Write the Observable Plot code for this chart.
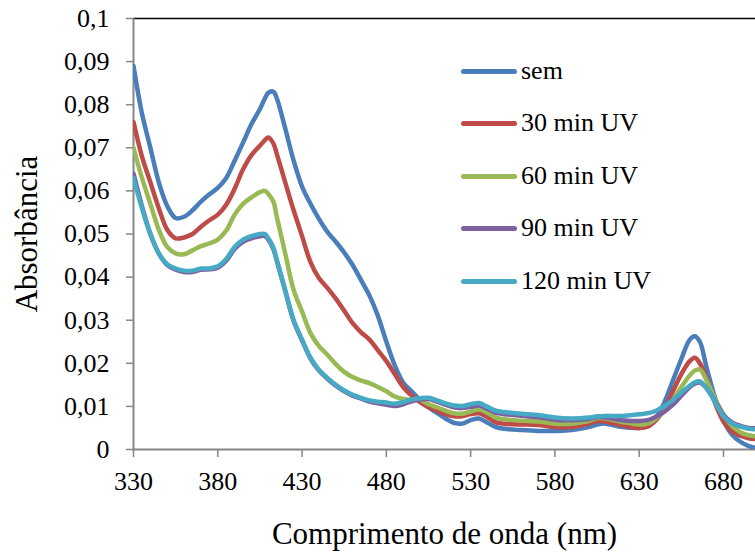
<!DOCTYPE html>
<html>
<head>
<meta charset="utf-8">
<script src="https://cdn.jsdelivr.net/npm/d3@7"></script>
<script src="https://cdn.jsdelivr.net/npm/@observablehq/plot@0.6"></script>
<style>
  html, body { margin: 0; padding: 0; background: white; }
  #wrap { position: relative; width: 755px; height: 554px; font-family: "Liberation Serif", "Times New Roman", serif; }
  #wrap svg { font-family: "Liberation Serif", "Times New Roman", serif; }
  #wrap g[aria-label="x-axis label"] text, #wrap g[aria-label="y-axis label"] text { font-size: 31px; }
  .leg-row { position: absolute; left: 461px; height: 30px; }
  .leg-line { position: absolute; left: 0; width: 56px; height: 5px; border-radius: 3px; top: 12.5px; }
  .leg-text { position: absolute; left: 60px; top: 0; font-size: 26px; line-height: 30px; white-space: nowrap; color: black; font-family: "Liberation Serif", "Times New Roman", serif; }
</style>
</head>
<body>
<div id="wrap"></div>
<script>
const wavelength = [330,335,340,345,350,355,360,365,370,375,380,385,390,395,400,405,408,410,413,415,420,425,430,435,440,445,450,455,460,465,470,475,480,485,490,495,500,505,510,515,520,525,530,535,540,545,550,560,570,580,590,600,605,610,620,630,635,640,645,650,655,660,663,666,670,675,680,685,690,695,700];

const sem = [.089,.078,.070,.062,.0565,.0537,.054,.0555,.0575,.0592,.0607,.063,.067,.0712,.0755,.079,.0815,.0828,.083,.0815,.0745,.067,.061,.057,.0535,.0505,.0482,.0457,.0428,.0393,.0357,.031,.025,.0195,.0155,.0135,.0115,.0098,.0085,.0072,.0062,.006,.0068,.0072,.0062,.0052,.0048,.0045,.0043,.0043,.0045,.0052,.0058,.006,.0052,.005,.0055,.0075,.011,.016,.021,.0255,.0263,.025,.019,.012,.0066,.0035,.0018,.0008,.0003];

const uv30 = [.076,.068,.062,.056,.051,.049,.0492,.050,.0517,.0532,.0545,.0568,.0605,.065,.0683,.0705,.0718,.0724,.071,.0686,.062,.0555,.0495,.0435,.0398,.0375,.035,.0322,.0293,.0272,.0255,.023,.0205,.0175,.0145,.0125,.011,.0098,.009,.0082,.0077,.0077,.0082,.0084,.0075,.0063,.006,.0058,.0057,.0052,.0052,.006,.0066,.0065,.0056,.005,.0053,.0068,.0095,.0135,.0175,.0205,.0213,.020,.0165,.0108,.0065,.0042,.0032,.0026,.0024];

const uv60 = [.070,.063,.057,.051,.047,.0455,.0453,.0462,.0472,.0478,.0487,.0508,.0545,.057,.0585,.0597,.060,.0593,.0575,.054,.0455,.037,.032,.027,.024,.022,.0198,.018,.0168,.016,.0154,.0145,.0135,.0123,.0117,.0115,.0115,.0105,.0098,.009,.0084,.0083,.0088,.0093,.0085,.0074,.007,.0067,.0065,.006,.006,.0066,.0073,.0072,.0064,.0058,.006,.0072,.009,.0115,.0145,.0172,.0183,.0186,.016,.0118,.0082,.0055,.004,.0033,.003];

const uv90 = [.064,.0565,.050,.0455,.0428,.0417,.0412,.0412,.0417,.0418,.0422,.0438,.0465,.0482,.049,.0495,.0495,.0487,.0465,.0438,.0368,.0298,.0253,.0211,.0183,.0164,.0148,.0135,.0125,.0118,.0111,.0107,.0104,.0101,.0105,.0112,.0116,.0117,.0111,.0104,.0098,.0096,.0099,.0102,.0094,.0085,.0082,.0078,.0075,.0069,.0068,.0071,.0075,.0074,.0068,.0066,.0068,.0076,.0088,.0104,.0125,.0145,.0153,.0155,.0142,.0112,.008,.0063,.0055,.005,.0049];

const uv120 = [.063,.056,.050,.0455,.043,.042,.0415,.0415,.042,.042,.0425,.0442,.047,.0487,.0495,.050,.050,.049,.0468,.044,.037,.030,.0255,.0213,.0185,.0166,.015,.0137,.0127,.012,.0114,.0111,.0109,.0106,.011,.0116,.0119,.012,.0114,.0107,.0102,.0101,.0105,.0108,.0099,.009,.0087,.0083,.008,.0074,.0072,.0074,.0077,.0078,.0078,.0082,.0084,.009,.0101,.0115,.0132,.0148,.0156,.0158,.0142,.011,.0077,.006,.0053,.0048,.0047];

const seriesNames = ["sem", "30 min UV", "60 min UV", "90 min UV", "120 min UV"];
const seriesValues = [sem, uv30, uv60, uv90, uv120];
const seriesColors = ["#4A7EBB", "#BE4B48", "#98B954", "#7D60A0", "#46AAC5"];

const xTicks = [330, 380, 430, 480, 530, 580, 630, 680];
const yTicks = [0, 0.01, 0.02, 0.03, 0.04, 0.05, 0.06, 0.07, 0.08, 0.09, 0.1];
const xDomain = [330, 699];
const yDomain = [0, 0.1];

const data = seriesNames.flatMap((name, i) =>
  wavelength.map((w, j) => ({series: name, x: w, y: seriesValues[i][j]}))
);

const fmt = d3.formatLocale({decimal: ",", thousands: ".", grouping: [3], currency: ["", ""]}).format("~g");

const chart = Plot.plot({
  width: 755,
  height: 554,
  marginLeft: 133,
  marginTop: 18,
  marginRight: 0,
  marginBottom: 105,
  style: {fontFamily: "'Liberation Serif', 'Times New Roman', serif", fontSize: "26px", color: "black", background: "white"},
  x: {domain: xDomain},
  y: {domain: yDomain},
  color: {domain: seriesNames, range: seriesColors},
  marks: [
    Plot.axisX({ticks: xTicks, tickSize: 8, tickPadding: 14, tickFormat: d => String(d), stroke: "#868686", strokeWidth: 1.5,
      label: "Comprimento de onda (nm)", labelAnchor: "center", labelOffset: 94, labelArrow: "none"}),
    Plot.axisY({ticks: yTicks, tickSize: 7, tickPadding: 17, tickFormat: fmt, stroke: "#868686", strokeWidth: 1.5,
      label: "Absorbância", labelAnchor: "center", labelOffset: 119, labelArrow: "none"}),
    Plot.ruleY([yDomain[1]], {stroke: "black", strokeWidth: 1.5}),
    Plot.ruleY([yDomain[0]], {stroke: "#868686", strokeWidth: 2}),
    Plot.ruleX([xDomain[0]], {stroke: "#868686", strokeWidth: 2}),
    Plot.line(data, {x: "x", y: "y", z: "series", stroke: "series", strokeWidth: 4.5,
      strokeLinejoin: "round", strokeLinecap: "round", curve: "catmull-rom", clip: true})
  ]
});

const wrap = document.getElementById("wrap");
wrap.appendChild(chart);

const legendTops = [71, 123, 176, 228, 281];
seriesNames.forEach((name, i) => {
  const row = document.createElement("div");
  row.className = "leg-row";
  row.style.top = (legendTops[i] - 15) + "px";
  const line = document.createElement("div");
  line.className = "leg-line";
  line.style.background = seriesColors[i];
  const txt = document.createElement("div");
  txt.className = "leg-text";
  txt.textContent = name;
  row.appendChild(line);
  row.appendChild(txt);
  wrap.appendChild(row);
});
</script>
</body>
</html>
